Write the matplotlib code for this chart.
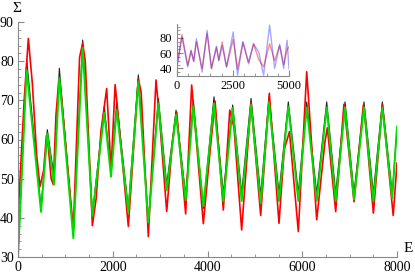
import matplotlib
matplotlib.use("Agg")
import matplotlib.pyplot as plt
from matplotlib.ticker import MultipleLocator

plt.rcParams['font.family'] = ['Liberation Serif', 'DejaVu Serif']

# main curves (E, Sigma)
black_x = [0, 183, 486, 619, 760, 873, 1168, 1365, 1570, 1822, 1963, 2083, 2329, 2540, 2751,
           2963, 3139, 3336, 3539, 3700, 3912, 4137, 4334, 4531, 4721, 4919, 5123, 5298, 5509,
           5706, 5917, 6094, 6305, 6516, 6706, 6903, 7093, 7304, 7501, 7691, 7900, 8000]
black_y = [30, 80.3, 42.5, 62.5, 50.5, 78.2, 36, 85.4, 41, 68.4, 51.4, 69.6, 42.4, 76.5, 39.4,
           70.5, 48.4, 67.5, 45.8, 70, 42.4, 70.9, 46.3, 68.8, 46.3, 70.5, 45.8, 70.9, 46.3,
           69.6, 46.3, 69.6, 46.3, 69.6, 46.3, 69.6, 46.3, 69.6, 46.3, 69.6, 46.3, 63]
green_y = [30, 77.7, 41.5, 61.5, 48.5, 75.7, 34.8, 83.4, 40.5, 66.8, 50.5, 67.5, 41.5, 74.8, 38.8,
           69.2, 47, 66.3, 44.5, 68.5, 43, 69.2, 44.3, 68, 44.3, 68.8, 43.7, 69.5, 44.3,
           68.4, 44.3, 68.2, 44.3, 68.2, 44.3, 68.2, 44.7, 68.2, 44.3, 68.2, 45, 63.3]
red_x = [0, 130, 218, 303, 394, 464, 540, 600, 640, 700, 745, 800, 860, 900, 960, 1168, 1300,
         1365, 1420, 1570, 1650, 1750, 1872, 1930, 1963, 2050, 2100, 2329, 2540, 2600, 2751,
         2913, 2990, 3139, 3250, 3300, 3350, 3539, 3666, 3912, 4050, 4160, 4334, 4470, 4560,
         4721, 4919, 5123, 5305, 5509, 5620, 5730, 5917, 6094, 6305, 6480, 6530, 6706, 6880,
         7093, 7290, 7340, 7501, 7691, 7920, 8000]
red_y = [40, 70, 85.8, 74.3, 56, 48, 52, 61, 58, 50, 48.5, 66, 75, 73, 65, 37, 81,
         84.6, 80, 38, 45, 62, 73, 60, 52, 74, 68, 37.8, 75.5, 72, 35.2,
         75.2, 65, 41.6, 58, 63, 67, 41, 73.9, 38.5, 56.5, 69.8, 42, 67.5, 63,
         36.9, 69.5, 40.6, 71.8, 38.6, 57.5, 62, 36.5, 77.3, 39.5, 59.5, 63, 41.6, 69,
         44.1, 68.8, 63.4, 41.2, 69, 40.6, 54]

# inset curves
inset_x = [0, 245, 500, 647, 767, 884, 1137, 1360, 1553, 1776, 1880, 2030, 2222, 2520, 2713,
           2953, 3202, 3425, 3650, 3871, 4138, 4362, 4585, 4763, 4914, 5000]
inset_red = [40, 84.4, 44, 63.8, 49.3, 75, 40, 86, 40, 68, 50.7, 74.7, 42, 78, 39,
             74.7, 46, 72.5, 52, 42, 72.5, 50, 70, 45, 65, 68]
inset_blue = [38, 81, 42, 63, 49, 79, 35.3, 90, 39.6, 69, 50, 70, 41.8, 88, 31,
              74.7, 48, 72, 62, 31, 97, 40, 71.5, 40, 77, 39.6]

axis_col = '#888888'

fig = plt.figure(figsize=(4.15, 2.76), dpi=100)
ax = fig.add_axes([18/415, 1-257/276, 379/415, 235/276])
ax.plot(black_x, black_y, color='#222222', lw=0.8)
ax.plot(red_x, red_y, color='#ff0000', lw=1.2)
ax.plot(black_x, green_y, color='#00dd00', lw=1.4)
ax.set_xlim(0, 8000)
ax.set_ylim(30, 90)

def style(a, fs):
    for s in ['top', 'right']:
        a.spines[s].set_visible(False)
    for s in ['left', 'bottom']:
        a.spines[s].set_color(axis_col)
        a.spines[s].set_linewidth(0.8)
    a.tick_params(which='both', direction='in', color=axis_col, labelsize=fs, pad=3)
    a.tick_params(which='major', length=4, width=0.8)
    a.tick_params(which='minor', length=2, width=0.6)
    a.patch.set_alpha(0)

style(ax, 10)
ax.xaxis.set_major_locator(MultipleLocator(2000))
ax.xaxis.set_minor_locator(MultipleLocator(500))
ax.yaxis.set_major_locator(MultipleLocator(10))
ax.yaxis.set_minor_locator(MultipleLocator(2))

fig.text(17/415, 1-8/276, 'Σ', fontsize=11, ha='center', va='center')
fig.text(404/415, 1-255/276, 'E', fontsize=11, ha='left', va='bottom')

ins = fig.add_axes([176.5/415, 1-76/276, 112.5/415, 68*0.76/276])
ins.plot(inset_x, inset_red, color='#ff0000', lw=1.0, alpha=0.45)
ins.plot(inset_x, inset_blue, color='#0000ff', lw=1.0, alpha=0.35)
ins.set_xlim(0, 5000)
ins.set_ylim(30, 98)
style(ins, 9)
ins.xaxis.set_major_locator(MultipleLocator(2500))
ins.xaxis.set_minor_locator(MultipleLocator(500))
ins.yaxis.set_major_locator(MultipleLocator(20))
ins.yaxis.set_minor_locator(MultipleLocator(5))

fig.savefig('out.png', dpi=100)
